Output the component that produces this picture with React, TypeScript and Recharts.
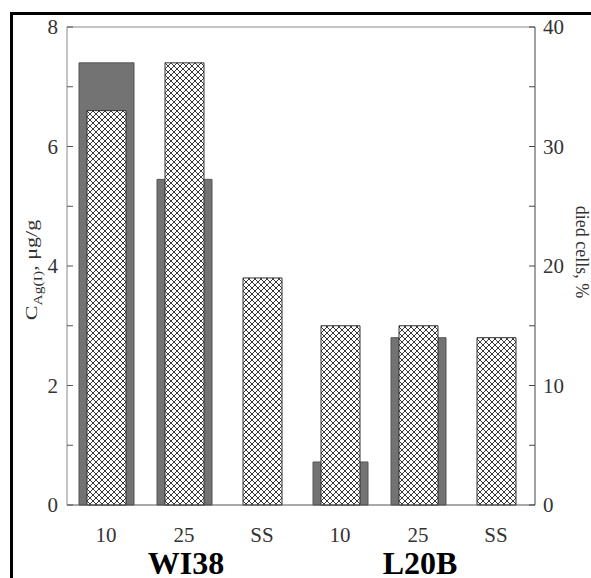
import React from 'react'
import { BarChart, Bar, XAxis, YAxis, ReferenceLine } from 'recharts'

// categories (exposure) and cell lines
const categories = ['10', '25', 'SS', '10', '25', 'SS']
const cellLines = ['WI38', 'L20B']
const groupOf = [0, 0, 0, 1, 1, 1]

// C Ag(I), ug/g  (left axis)
const silverContent = [7.4, 5.45, null, 0.72, 2.8, null]
// died cells, %  (right axis)
const diedCells = [33, 37, 19, 15, 15, 14]

const leftTicks = [0, 1, 2, 3, 4, 5, 6, 7, 8]
const rightTicks = [0, 5, 10, 15, 20, 25, 30, 35, 40]

const data = categories.map((c, i) => ({
  id: cellLines[groupOf[i]] + '-' + c,
  silver: silverContent[i],
  died: diedCells[i],
}))

const serif = "'Liberation Serif', 'Times New Roman', serif"

function CatTick(props: any) {
  const { x, y, index } = props
  return (
    <g>
      <text x={x} y={y + 29} textAnchor='middle' fontFamily={serif} fontSize={21} fill='#333'>
        {categories[index]}
      </text>
      {index % 3 === 1 && (
        <text x={x + 2} y={y + 61} textAnchor='middle' fontFamily={serif} fontSize={32} fontWeight='bold' fill='#000'>
          {cellLines[groupOf[index]]}
        </text>
      )}
    </g>
  )
}

function LeftTitle(props: any) {
  const vb = props.viewBox || { x: 17, y: 27, width: 50, height: 478 }
  const cx = vb.x + 20
  const cy = vb.y + vb.height / 2 + 4
  return (
    <text
      transform={`translate(${cx},${cy}) rotate(-90) scale(1.3,1)`}
      textAnchor='middle'
      fontFamily={serif}
      fontSize={17}
      fill='#333'
    >
      C
      <tspan fontSize={12} dy={5}>Ag(I)</tspan>
      <tspan dy={-5}>, μg/g</tspan>
    </text>
  )
}

function RightTitle(props: any) {
  const vb = props.viewBox || { x: 535, y: 27, width: 50, height: 478 }
  const cx = vb.x + 41
  const cy = vb.y + vb.height / 2 - 14
  return (
    <text
      transform={`translate(${cx},${cy}) rotate(90)`}
      textAnchor='middle'
      fontFamily={serif}
      fontSize={18}
      fill='#333'
    >
      died cells, %
    </text>
  )
}

export default function App() {
  return (
    <div style={{ position: 'absolute', left: 0, top: 0, width: 591, height: 578, overflow: 'hidden', background: '#fff' }}>
      <svg width={0} height={0} style={{ position: 'absolute' }}>
        <defs>
          <pattern id='xhatch' patternUnits='userSpaceOnUse' width={6} height={6}>
            <rect width={6} height={6} fill='#fff' />
            <path d='M0,0 L6,6 M6,0 L0,6' stroke='#222' strokeWidth={0.9} />
          </pattern>
        </defs>
      </svg>
      <div
        style={{
          position: 'absolute',
          left: 10,
          top: 12,
          width: 700,
          height: 700,
          border: '3px solid #000',
          boxSizing: 'border-box',
        }}
      />
      <div style={{ position: 'absolute', left: 0, top: 0 }}>
        <BarChart width={591} height={578} data={data} margin={{ top: 27, right: 6, left: 17, bottom: 0 }}>
          <XAxis
            xAxisId='a'
            dataKey='id'
            height={73}
            interval={0}
            tickLine={false}
            axisLine={{ stroke: '#555' }}
            tick={<CatTick />}
          />
          <XAxis xAxisId='b' dataKey='id' hide />
          <YAxis
            yAxisId='left'
            domain={[0, 8]}
            ticks={leftTicks}
            interval={0}
            width={50}
            tickSize={-6}
            tickMargin={15}
            tickFormatter={(v: number) => (v % 2 === 0 ? String(v) : '')}
            axisLine={{ stroke: '#888' }}
            tickLine={{ stroke: '#555' }}
            tick={{ fontFamily: serif, fontSize: 21, fill: '#333' }}
            label={<LeftTitle />}
          />
          <YAxis
            yAxisId='right'
            orientation='right'
            domain={[0, 40]}
            ticks={rightTicks}
            interval={0}
            width={50}
            tickSize={-6}
            tickMargin={14}
            tickFormatter={(v: number) => (v % 10 === 0 ? String(v) : '')}
            axisLine={{ stroke: '#444' }}
            tickLine={{ stroke: '#444' }}
            tick={{ fontFamily: serif, fontSize: 21, fill: '#333', textAnchor: 'start' }}
            label={<RightTitle />}
          />
          <ReferenceLine yAxisId='left' xAxisId='a' y={8} stroke='#888' />
          <Bar
            xAxisId='a'
            yAxisId='left'
            dataKey='silver'
            barSize={55}
            fill='#737373'
            stroke='#555'
            isAnimationActive={false}
          />
          <Bar
            xAxisId='b'
            yAxisId='right'
            dataKey='died'
            barSize={39}
            fill='url(#xhatch)'
            stroke='#333'
            isAnimationActive={false}
          />
        </BarChart>
      </div>
    </div>
  )
}
